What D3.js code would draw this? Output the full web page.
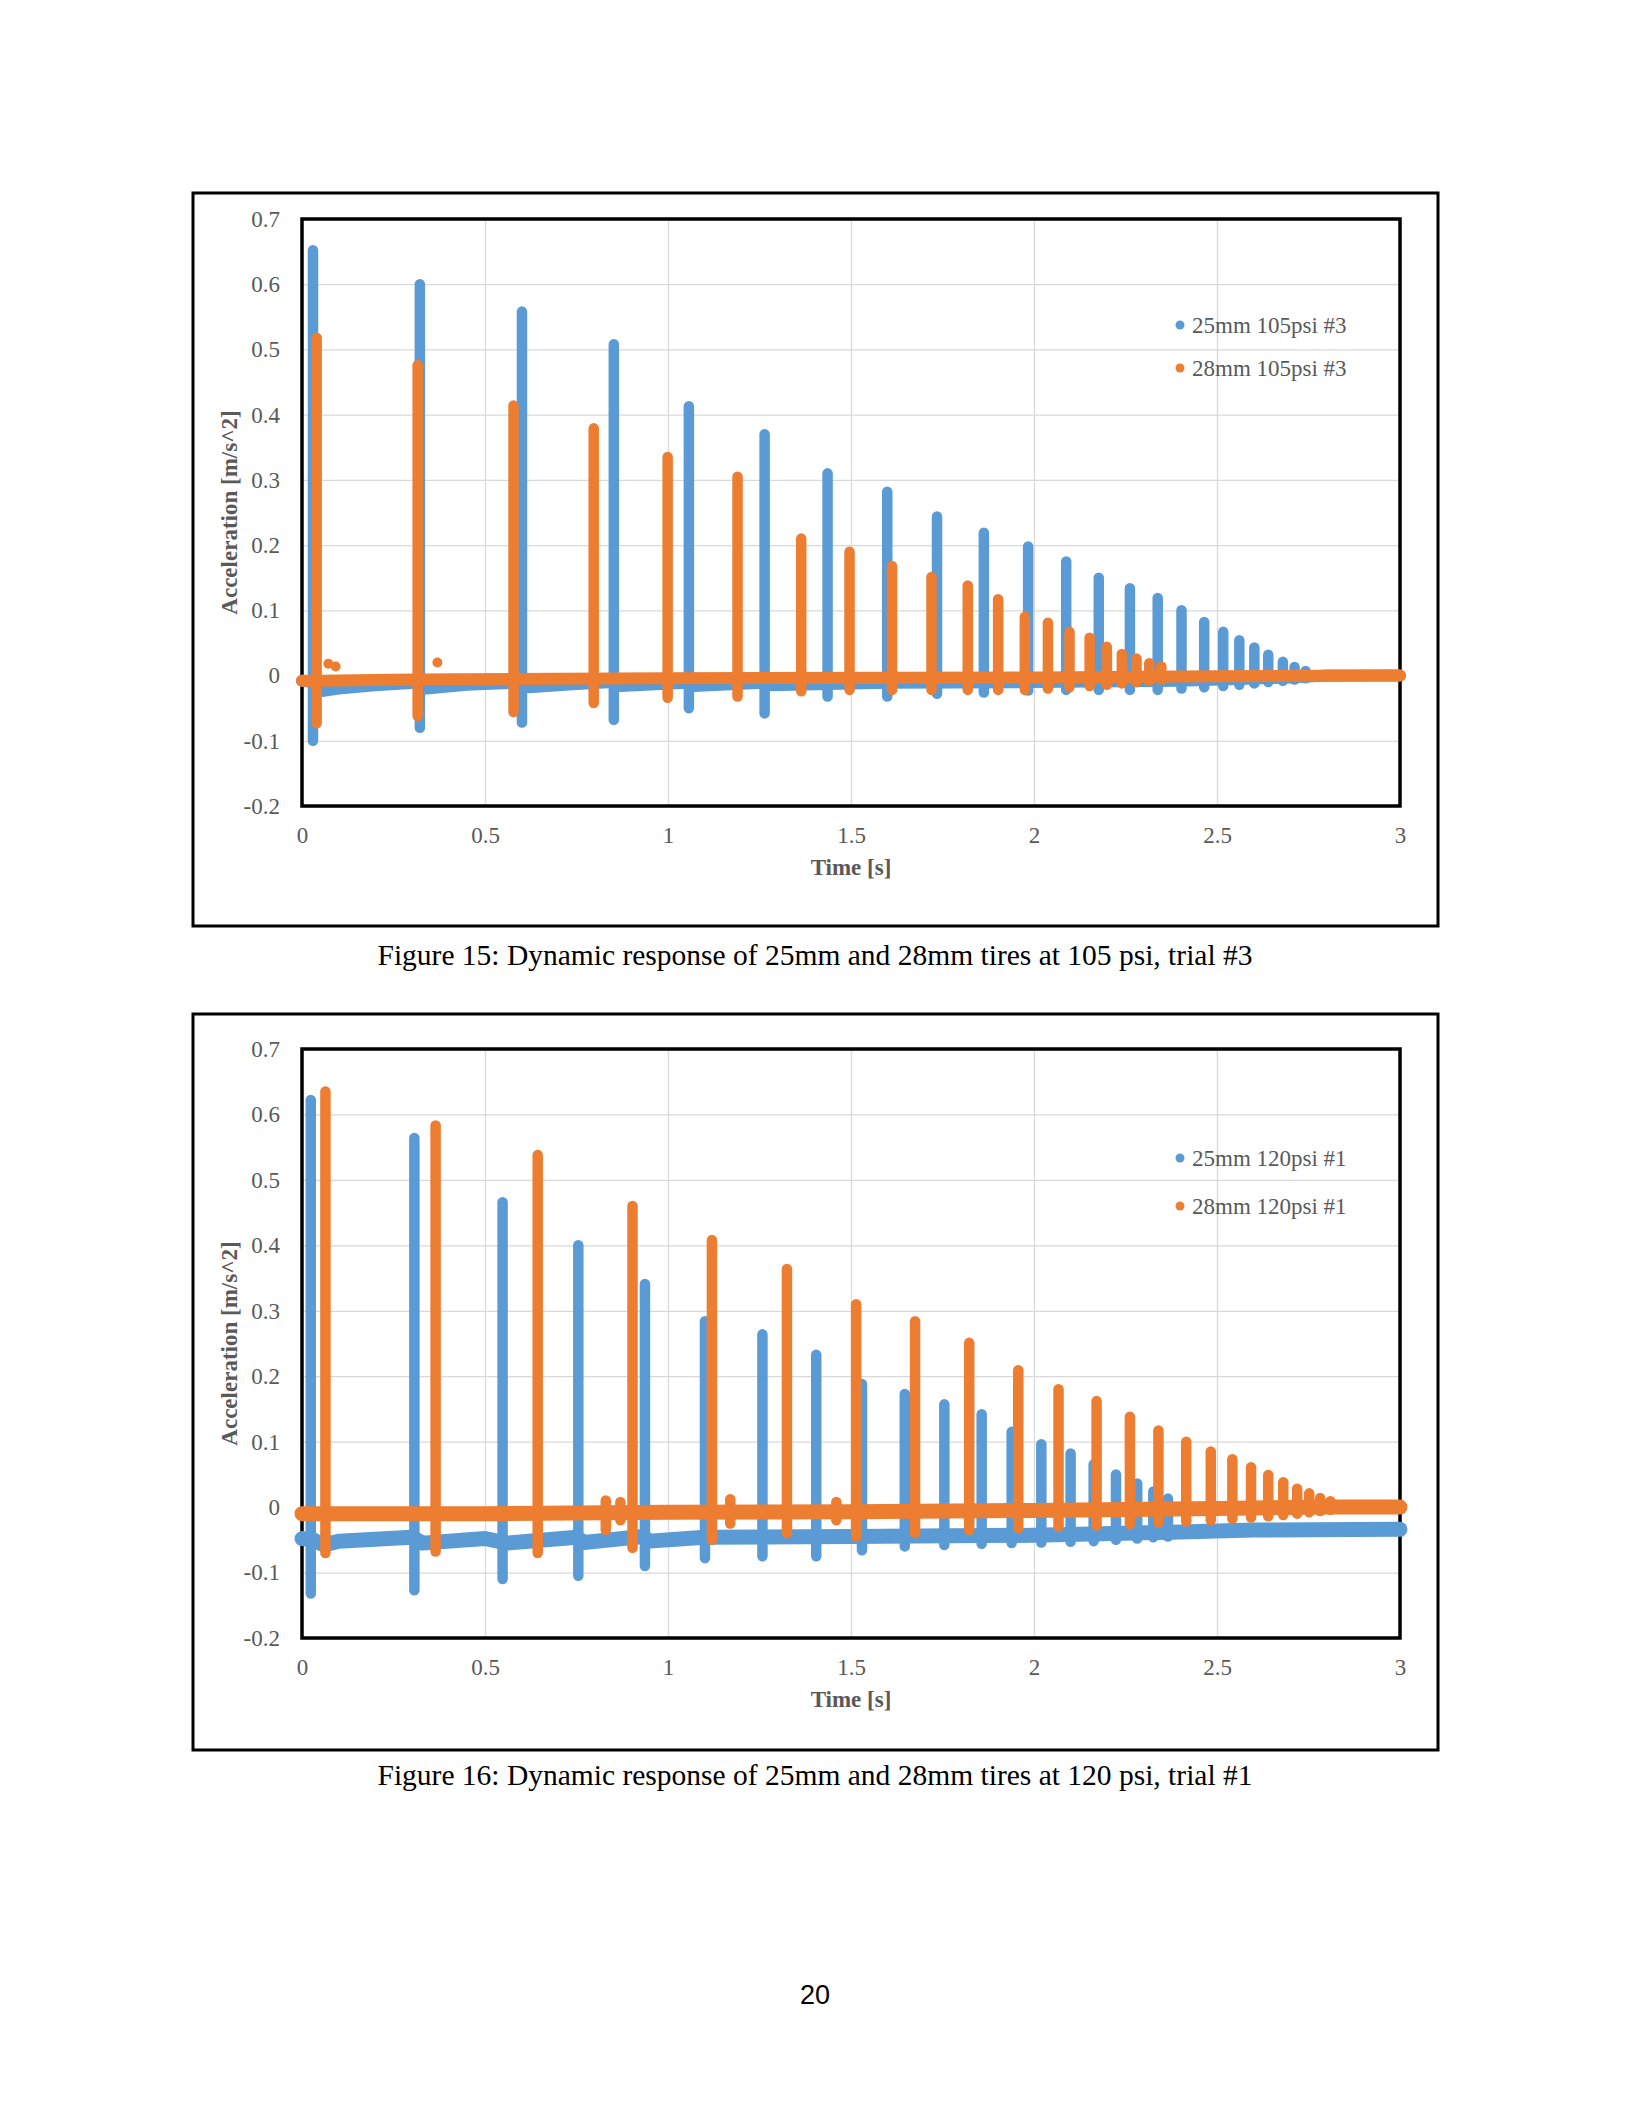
<!DOCTYPE html>
<html>
<head>
<meta charset="utf-8">
<script src="https://cdn.jsdelivr.net/npm/d3@7"></script>
<style>
  body { margin: 0; background: #fff; }
  svg text { font-family: "Liberation Serif", "Times New Roman", serif; }
</style>
</head>
<body>
<svg id="page" width="1632" height="2112"></svg>
<script>
// shared axis ticks
const xTicks = [0, 0.5, 1, 1.5, 2, 2.5, 3];
const xTickLabels = ["0", "0.5", "1", "1.5", "2", "2.5", "3"];
const yTicks = [-0.2, -0.1, 0, 0.1, 0.2, 0.3, 0.4, 0.5, 0.6, 0.7];
const yTickLabels = ["-0.2", "-0.1", "0", "0.1", "0.2", "0.3", "0.4", "0.5", "0.6", "0.7"];

// Figure 15 - 25mm 105psi #3 (blue)
const f15BlueTimes = [0.030, 0.322, 0.601, 0.852, 1.057, 1.264, 1.436, 1.599, 1.735, 1.863, 1.984, 2.088, 2.177, 2.262, 2.338, 2.403, 2.465, 2.517, 2.561, 2.602, 2.640, 2.680, 2.712, 2.742];
const f15BluePeaks = [0.652, 0.600, 0.558, 0.508, 0.413, 0.370, 0.310, 0.282, 0.244, 0.219, 0.198, 0.175, 0.150, 0.134, 0.119, 0.100, 0.082, 0.067, 0.054, 0.043, 0.032, 0.021, 0.013, 0.007];
const f15BlueTroughs = [-0.100, -0.080, -0.072, -0.068, -0.050, -0.058, -0.032, -0.032, -0.028, -0.026, -0.023, -0.022, -0.022, -0.022, -0.022, -0.020, -0.018, -0.016, -0.014, -0.012, -0.010, -0.008, -0.006, -0.004];
const f15BlueBaseT = [0, 0.03, 0.05, 0.1, 0.2, 0.31, 0.34, 0.45, 0.59, 0.62, 0.75, 0.85, 0.87, 1.05, 1.07, 1.26, 1.28, 1.6, 2.0, 2.4, 2.7, 2.8, 3.0];
const f15BlueBaseV = [-0.008, -0.010, -0.024, -0.020, -0.015, -0.011, -0.020, -0.014, -0.011, -0.018, -0.013, -0.010, -0.016, -0.011, -0.016, -0.011, -0.015, -0.011, -0.010, -0.008, -0.003, 0, 0];

// Figure 15 - 28mm 105psi #3 (orange)
const f15OrangeTimes = [0.040, 0.316, 0.578, 0.797, 0.999, 1.190, 1.364, 1.496, 1.612, 1.720, 1.819, 1.902, 1.975, 2.038, 2.097, 2.152, 2.199, 2.240, 2.280, 2.315, 2.348];
const f15OrangePeaks = [0.518, 0.476, 0.414, 0.379, 0.335, 0.305, 0.210, 0.190, 0.168, 0.151, 0.138, 0.117, 0.090, 0.081, 0.067, 0.058, 0.044, 0.033, 0.026, 0.019, 0.014];
const f15OrangeTroughs = [-0.073, -0.062, -0.056, -0.042, -0.034, -0.032, -0.024, -0.022, -0.022, -0.022, -0.022, -0.022, -0.022, -0.020, -0.018, -0.016, -0.014, -0.012, -0.010, -0.008, -0.006];
const f15OrangeBaseT = [0, 0.05, 0.3, 1.0, 2.0, 2.5, 3.0];
const f15OrangeBaseV = [-0.008, -0.008, -0.006, -0.004, -0.003, -0.001, 0];
const f15OrangeStrayT = [0.072, 0.092, 0.37];
const f15OrangeStrayV = [0.018, 0.014, 0.020];

// Figure 16 - 25mm 120psi #1 (blue)
const f16BlueTimes = [0.024, 0.307, 0.548, 0.755, 0.937, 1.101, 1.258, 1.405, 1.530, 1.647, 1.755, 1.857, 1.939, 2.020, 2.100, 2.163, 2.224, 2.282, 2.326, 2.366];
const f16BluePeaks = [0.622, 0.564, 0.466, 0.400, 0.341, 0.284, 0.264, 0.233, 0.188, 0.173, 0.157, 0.142, 0.115, 0.096, 0.082, 0.065, 0.050, 0.036, 0.024, 0.013];
const f16BlueTroughs = [-0.132, -0.127, -0.110, -0.105, -0.090, -0.078, -0.075, -0.075, -0.066, -0.060, -0.058, -0.056, -0.055, -0.054, -0.053, -0.052, -0.050, -0.048, -0.046, -0.045];
const f16BlueBaseT = [0, 0.03, 0.06, 0.1, 0.3, 0.33, 0.5, 0.56, 0.75, 0.77, 0.93, 0.95, 1.1, 1.5, 2.0, 2.4, 2.6, 3.0];
const f16BlueBaseV = [-0.048, -0.050, -0.058, -0.052, -0.046, -0.055, -0.048, -0.055, -0.046, -0.054, -0.045, -0.052, -0.046, -0.045, -0.043, -0.038, -0.035, -0.034];

// Figure 16 - 28mm 120psi #1 (orange)
const f16OrangeTimes = [0.064, 0.365, 0.644, 0.903, 1.120, 1.325, 1.514, 1.675, 1.823, 1.957, 2.067, 2.171, 2.262, 2.340, 2.416, 2.483, 2.542, 2.593, 2.640, 2.681, 2.719, 2.752, 2.782, 2.810];
const f16OrangePeaks = [0.635, 0.583, 0.538, 0.460, 0.408, 0.364, 0.310, 0.284, 0.251, 0.209, 0.180, 0.162, 0.138, 0.117, 0.100, 0.085, 0.073, 0.061, 0.049, 0.038, 0.028, 0.021, 0.014, 0.009];
const f16OrangeTroughs = [-0.070, -0.068, -0.070, -0.062, -0.050, -0.040, -0.045, -0.040, -0.035, -0.032, -0.030, -0.028, -0.026, -0.024, -0.022, -0.020, -0.018, -0.016, -0.014, -0.012, -0.010, -0.008, -0.006, -0.004];
const f16OrangeBaseT = [0, 0.5, 1.0, 1.5, 2.0, 2.5, 2.8, 3.0];
const f16OrangeBaseV = [-0.010, -0.010, -0.008, -0.007, -0.005, -0.002, 0, 0];
const f16OrangeMinorT = [0.83, 0.87, 1.17, 1.46];
const f16OrangeMinorPeaks = [0.010, 0.008, 0.012, 0.008];
const f16OrangeMinorTroughs = [-0.035, -0.020, -0.025, -0.020];

const blue = "#5B9BD5", orange = "#ED7D31", grey = "#595959";

const svg = d3.select("#page");
svg.append("rect").attr("width", 1632).attr("height", 2112).attr("fill", "#fff");

function drawPanel(cfg) {
    const g = svg.append("g");
    // outer frame
    g.append("rect")
        .attr("x", cfg.frame[0]).attr("y", cfg.frame[1])
        .attr("width", cfg.frame[2] - cfg.frame[0]).attr("height", cfg.frame[3] - cfg.frame[1])
        .attr("fill", "none").attr("stroke", "#000").attr("stroke-width", 3);

    const x = d3.scaleLinear().domain([0, 3]).range([cfg.left, cfg.right]);
    const y = d3.scaleLinear().domain([-0.2, 0.7]).range([cfg.bottom, cfg.top]);

    // gridlines
    g.append("g").attr("transform", "translate(" + cfg.left + ",0)")
        .call(d3.axisLeft(y).tickValues(yTicks).tickSize(-(cfg.right - cfg.left)).tickFormat(""))
        .call(a => a.select(".domain").remove())
        .call(a => a.selectAll("line").attr("stroke", "#d9d9d9").attr("stroke-width", 1.3));
    g.append("g").attr("transform", "translate(0," + cfg.bottom + ")")
        .call(d3.axisBottom(x).tickValues(xTicks).tickSize(-(cfg.bottom - cfg.top)).tickFormat(""))
        .call(a => a.select(".domain").remove())
        .call(a => a.selectAll("line").attr("stroke", "#d9d9d9").attr("stroke-width", 1.3));

    // tick labels
    g.append("g").attr("transform", "translate(" + cfg.left + ",0)")
        .call(d3.axisLeft(y).tickValues(yTicks).tickSize(0).tickPadding(22)
            .tickFormat((d, i) => yTickLabels[i]))
        .call(a => a.select(".domain").remove())
        .call(a => a.selectAll("text").attr("font-size", 23).attr("fill", grey)
            .style("font-family", "'Liberation Serif', serif"));
    g.append("g").attr("transform", "translate(0," + cfg.bottom + ")")
        .call(d3.axisBottom(x).tickValues(xTicks).tickSize(0).tickPadding(21)
            .tickFormat((d, i) => xTickLabels[i]))
        .call(a => a.select(".domain").remove())
        .call(a => a.selectAll("text").attr("font-size", 23).attr("fill", grey)
            .style("font-family", "'Liberation Serif', serif"));

    // plot border
    g.append("rect")
        .attr("x", cfg.left).attr("y", cfg.top)
        .attr("width", cfg.right - cfg.left).attr("height", cfg.bottom - cfg.top)
        .attr("fill", "none").attr("stroke", "#000").attr("stroke-width", 3.5);

    // data series
    cfg.series.forEach(s => {
        const line = d3.line().x((d, i) => x(s.baseT[i])).y(d => y(d));
        g.append("path")
            .attr("d", line(s.baseV))
            .attr("fill", "none").attr("stroke", s.color)
            .attr("stroke-width", cfg.band)
            .attr("stroke-linecap", "round").attr("stroke-linejoin", "round");

        const spikes = s.times.map((t, i) => ({ t: t, hi: s.peaks[i], lo: s.troughs[i] }));
        if (s.minorT) {
            s.minorT.forEach((t, i) => spikes.push({ t: t, hi: s.minorPeaks[i], lo: s.minorTroughs[i] }));
        }
        g.selectAll(null).data(spikes).enter().append("line")
            .attr("x1", d => x(d.t)).attr("x2", d => x(d.t))
            .attr("y1", d => y(d.lo)).attr("y2", d => y(d.hi))
            .attr("stroke", s.color).attr("stroke-width", 10.5)
            .attr("stroke-linecap", "round");

        if (s.strayT) {
            g.selectAll(null).data(s.strayT).enter().append("circle")
                .attr("cx", d => x(d)).attr("cy", (d, i) => y(s.strayV[i]))
                .attr("r", 5).attr("fill", s.color);
        }
    });

    // axis titles
    g.append("text")
        .attr("x", (cfg.left + cfg.right) / 2).attr("y", cfg.bottom + 69)
        .attr("text-anchor", "middle").attr("font-size", 23).attr("font-weight", "bold")
        .attr("fill", grey).text("Time [s]");
    g.append("text")
        .attr("transform", "translate(237," + (cfg.top + cfg.bottom) / 2 + ") rotate(-90)")
        .attr("text-anchor", "middle").attr("font-size", 23).attr("font-weight", "bold")
        .attr("fill", grey).text("Acceleration [m/s^2]");

    // legend
    cfg.series.forEach((s, i) => {
        const ly = cfg.legendY[i];
        g.append("circle").attr("cx", 1180).attr("cy", ly).attr("r", 4.5).attr("fill", s.color);
        g.append("text").attr("x", 1192).attr("y", ly + 8)
            .attr("font-size", 23).attr("fill", grey).text(s.name);
    });

    // caption
    g.append("text")
        .attr("x", 815).attr("y", cfg.captionY)
        .attr("text-anchor", "middle").attr("font-size", 29.5).attr("fill", "#000")
        .text(cfg.caption);
}

drawPanel({
    frame: [193, 193, 1438, 926],
    left: 302, right: 1400, top: 219, bottom: 806,
    band: 12,
    legendY: [325, 368],
    captionY: 965,
    caption: "Figure 15: Dynamic response of 25mm and 28mm tires at 105 psi, trial #3",
    series: [
        { name: "25mm 105psi #3", color: blue, times: f15BlueTimes, peaks: f15BluePeaks, troughs: f15BlueTroughs, baseT: f15BlueBaseT, baseV: f15BlueBaseV },
        { name: "28mm 105psi #3", color: orange, times: f15OrangeTimes, peaks: f15OrangePeaks, troughs: f15OrangeTroughs, baseT: f15OrangeBaseT, baseV: f15OrangeBaseV, strayT: f15OrangeStrayT, strayV: f15OrangeStrayV }
    ]
});

drawPanel({
    frame: [193, 1014, 1438, 1750],
    left: 302, right: 1400, top: 1049, bottom: 1638,
    band: 15,
    legendY: [1158, 1206],
    captionY: 1785,
    caption: "Figure 16: Dynamic response of 25mm and 28mm tires at 120 psi, trial #1",
    series: [
        { name: "25mm 120psi #1", color: blue, times: f16BlueTimes, peaks: f16BluePeaks, troughs: f16BlueTroughs, baseT: f16BlueBaseT, baseV: f16BlueBaseV },
        { name: "28mm 120psi #1", color: orange, times: f16OrangeTimes, peaks: f16OrangePeaks, troughs: f16OrangeTroughs, baseT: f16OrangeBaseT, baseV: f16OrangeBaseV, minorT: f16OrangeMinorT, minorPeaks: f16OrangeMinorPeaks, minorTroughs: f16OrangeMinorTroughs }
    ]
});

// page number
svg.append("text")
    .attr("x", 815).attr("y", 2004)
    .attr("text-anchor", "middle").attr("font-size", 27)
    .style("font-family", "'Liberation Sans', Arial, sans-serif")
    .attr("fill", "#000").text("20");
</script>
</body>
</html>
